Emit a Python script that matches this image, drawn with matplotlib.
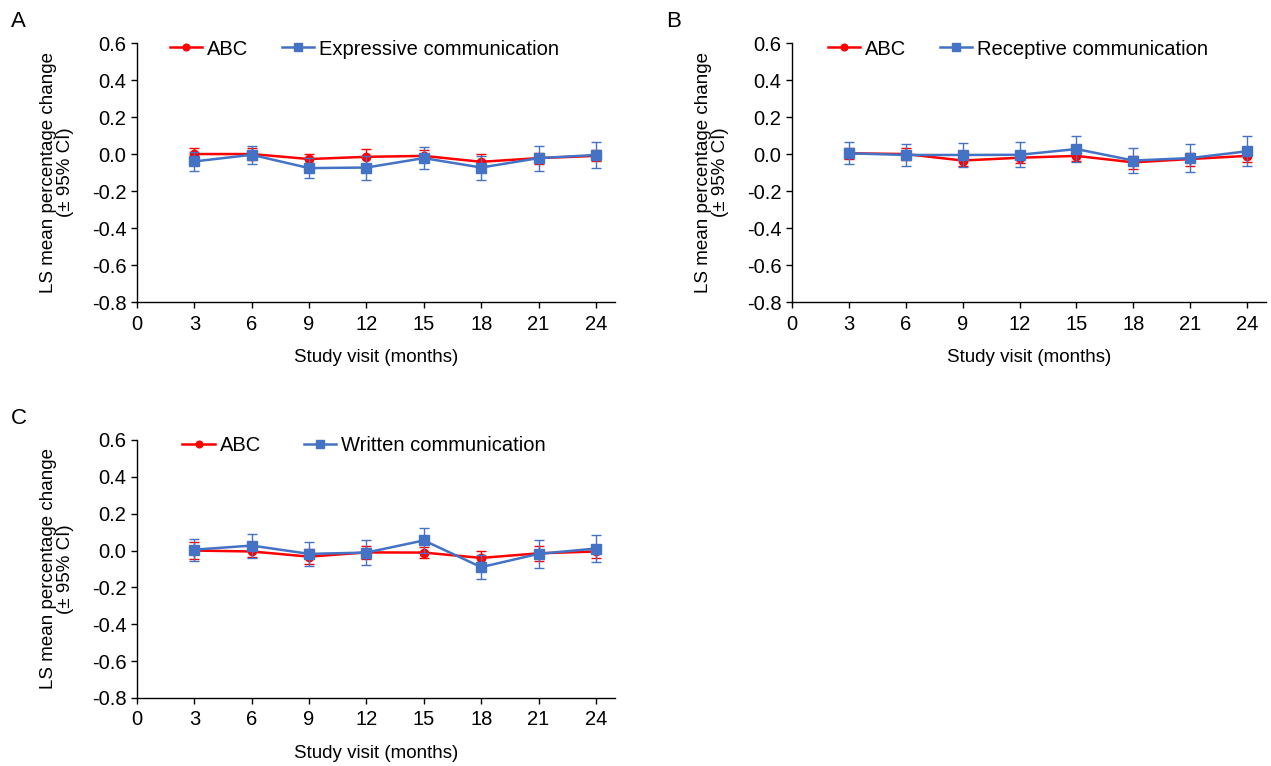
import matplotlib
matplotlib.use("Agg")
import matplotlib.pyplot as plt

plt.rcParams['font.family'] = ['Liberation Sans', 'DejaVu Sans']

months = [3, 6, 9, 12, 15, 18, 21, 24]

# panel A
A_abc = [0.0, 0.0, -0.027, -0.015, -0.01, -0.042, -0.022, -0.01]
A_abc_ci = [0.03, 0.03, 0.025, 0.04, 0.03, 0.04, 0.03, 0.03]
A_dom = [-0.04, -0.004, -0.076, -0.073, -0.022, -0.073, -0.022, -0.005]
A_dom_ci = [0.053, 0.05, 0.055, 0.065, 0.06, 0.065, 0.068, 0.07]

# panel B
B_abc = [0.004, 0.0, -0.035, -0.02, -0.01, -0.045, -0.027, -0.01]
B_abc_ci = [0.03, 0.03, 0.03, 0.03, 0.03, 0.035, 0.035, 0.035]
B_dom = [0.004, -0.005, -0.005, -0.004, 0.027, -0.035, -0.022, 0.015]
B_dom_ci = [0.06, 0.06, 0.065, 0.068, 0.07, 0.07, 0.075, 0.08]

# panel C
C_abc = [0.0, -0.005, -0.033, -0.01, -0.011, -0.04, -0.015, -0.005]
C_abc_ci = [0.045, 0.03, 0.04, 0.035, 0.03, 0.035, 0.04, 0.035]
C_dom = [0.005, 0.027, -0.018, -0.011, 0.055, -0.09, -0.018, 0.011]
C_dom_ci = [0.06, 0.065, 0.065, 0.07, 0.068, 0.065, 0.075, 0.075]

xticks = [0, 3, 6, 9, 12, 15, 18, 21, 24]
yticks = [0.6, 0.4, 0.2, 0.0, -0.2, -0.4, -0.6, -0.8]

RED = "#FF0000"
BLUE = "#4472C4"
FS = 14.5
FS_LAB = 13.5

fig = plt.figure(figsize=(12.71, 7.66), dpi=100)


def draw_panel(rect, abc, abc_ci, dom, dom_ci, dom_name, letter, leg_x, colsp):
    ax = fig.add_axes(rect)
    e1 = ax.errorbar(months, abc, yerr=abc_ci, color=RED, marker="o", markersize=6,
                     lw=1.8, capsize=3.5, elinewidth=1.0, capthick=1.0, zorder=3)
    e2 = ax.errorbar(months, dom, yerr=dom_ci, color=BLUE, marker="s", markersize=6.8,
                     lw=1.8, capsize=3.5, elinewidth=1.0, capthick=1.0, zorder=4)
    ax.set_xlim(0, 25)
    ax.set_ylim(-0.8, 0.6)
    ax.set_xticks(xticks)
    ax.set_yticks(yticks)
    ax.set_yticklabels(["%.1f" % v for v in yticks])
    ax.tick_params(labelsize=FS, length=4, width=1, direction="out")
    ax.tick_params(axis="x", pad=5)
    for s in ["top", "right"]:
        ax.spines[s].set_visible(False)
    ax.spines["left"].set_linewidth(1)
    ax.spines["bottom"].set_linewidth(1)
    ax.set_xlabel("Study visit (months)", fontsize=FS_LAB, labelpad=11)
    ax.set_ylabel("LS mean percentage change\n(\u00b1 95% CI)", fontsize=FS_LAB,
                  labelpad=13, linespacing=1.0)
    ax.legend([e1[0], e2[0]], ["ABC", dom_name], loc="center left",
              bbox_to_anchor=(leg_x, 0.977), ncol=2, frameon=False, fontsize=FS,
              handlelength=1.6, handletextpad=0.25, columnspacing=colsp,
              borderaxespad=0, borderpad=0, markerscale=0.8)
    fig.text(rect[0] - 0.093, rect[1] + rect[3] + 0.028, letter, fontsize=16,
             ha="center", va="center")
    return ax


draw_panel([0.1078, 0.6057, 0.3761, 0.3381], A_abc, A_abc_ci, A_dom, A_dom_ci,
           "Expressive communication", "A", 0.069, 1.65)
draw_panel([0.6231, 0.6057, 0.3730, 0.3381], B_abc, B_abc_ci, B_dom, B_dom_ci,
           "Receptive communication", "B", 0.076, 1.65)
draw_panel([0.1078, 0.0888, 0.3761, 0.3368], C_abc, C_abc_ci, C_dom, C_dom_ci,
           "Written communication", "C", 0.095, 2.15)

fig.savefig("out.png", dpi=100)
